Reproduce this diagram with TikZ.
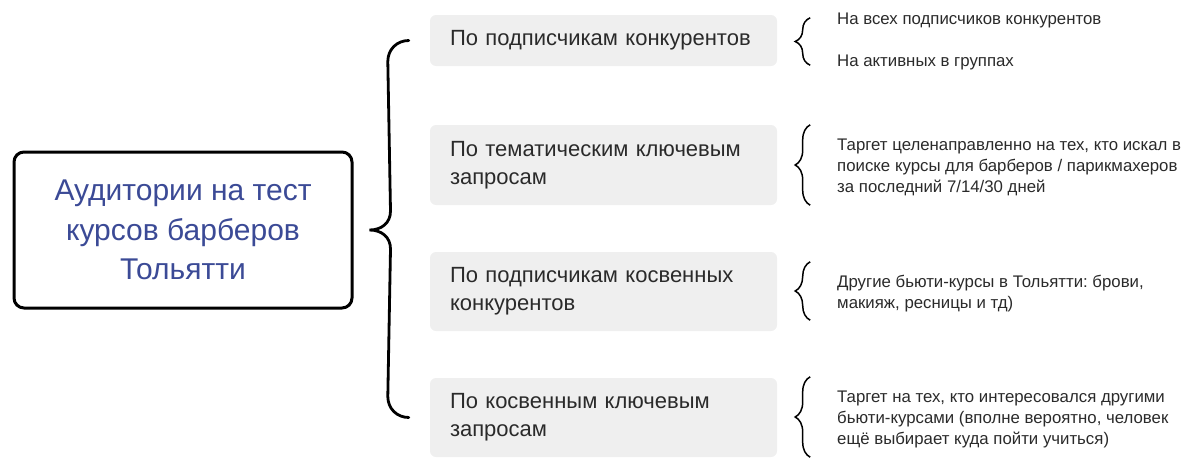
\documentclass[tikz,border=0pt]{standalone}
\usepackage{fontspec}
\setmainfont{Liberation Sans}
\frenchspacing
\usetikzlibrary{calc,decorations.pathreplacing}
\definecolor{titleblue}{HTML}{3B4A96}
\definecolor{boxgray}{HTML}{EFEFEF}
\definecolor{inkgray}{HTML}{2A2A2A}
\tikzset{
  way/.style={fill=boxgray, rounded corners=6pt, text width=307pt, inner xsep=20pt, inner ysep=0pt,
    align=left, text=inkgray, font=\fontsize{22}{28}\selectfont},
  note/.style={anchor=west, align=left, inner sep=0pt, text=inkgray, font=\fontsize{16.8}{21}\selectfont},
  curly/.style={decorate, decoration={brace, amplitude=15pt}, line width=1.5pt},
}
\begin{document}
\begin{tikzpicture}[x=1pt, y=-1pt]
                \useasboundingbox (0,0) rectangle (1200,474);
                \node(aud) at(183, 230) [draw, line width=3pt, rounded corners=10pt, minimum width=338pt, minimum height=156pt,
                    align=center, text=titleblue, font=\fontsize{30}{39.5}\selectfont] {Аудитории на тест\\курсов барберов\\Тольятти};
                \node(subs)  at(603.5, 40.5)  [way, minimum height=51pt] {По подписчикам конкурентов};
                \node(kwthm) at(603.5, 165)   [way, minimum height=80pt] {По тематическим ключевым\\запросам};
                \node(subin) at(603.5, 291.5) [way, minimum height=79pt] {По подписчикам косвенных\\конкурентов};
                \node(kwind) at(603.5, 417.5) [way, minimum height=79pt] {По косвенным ключевым\\запросам};
                \node(nall)  at(837, 20.5)  [note] {На всех подписчиков конкурентов};
                \node(nact)  at(837, 62.5)  [note] {На активных в группах};
                \node(nthm)  at(837, 167.5) [note] {Таргет целенаправленно на тех, кто искал в\\поиске курсы для барберов / парикмахеров\\за последний 7/14/30 дней};
                \node(nbty)  at(837, 293.5) [note] {Другие бьюти-курсы в Тольятти: брови,\\макияж, ресницы и тд)};
                \node(noth)  at(837, 419.5) [note] {Таргет на тех, кто интересовался другими\\бьюти-курсами (вполне вероятно, человек\\ещё выбирает куда пойти учиться)};
                % big brace
                \coordinate(btop) at ($(subs.west)+(-21,0)$);
                \coordinate(bbot) at ($(kwind.west)+(-21,0)$);
                \coordinate(btip) at ($(aud.east)+(16,0)$);
                \draw[line width=2.8pt, line cap=round]
                    (btop) .. controls +(-12,0) and +(0,-12) .. ($(btop)+(-21,21)$)
                    -- ($(btip)+(21,-19)$) .. controls +(0,12) and +(12,0) .. (btip)
                    .. controls +(12,0) and +(0,-12) .. ($(btip)+(21,19)$)
                    -- ($(bbot)+(-21,-21)$) .. controls +(0,12) and +(-12,0) .. (bbot);
                % small braces
                \draw[curly] ($(subs.south east)+(33,-1)$)  -- ($(subs.north east)+(33,3)$);
                \draw[curly] ($(kwthm.south east)+(33,0)$)  -- ($(kwthm.north east)+(33,0)$);
                \draw[curly] ($(subin.south east)+(33,-11)$) -- ($(subin.north east)+(33,10)$);
                \draw[curly] ($(kwind.south east)+(33,0)$)  -- ($(kwind.north east)+(33,-1)$);
            \end{tikzpicture}
\end{document}
